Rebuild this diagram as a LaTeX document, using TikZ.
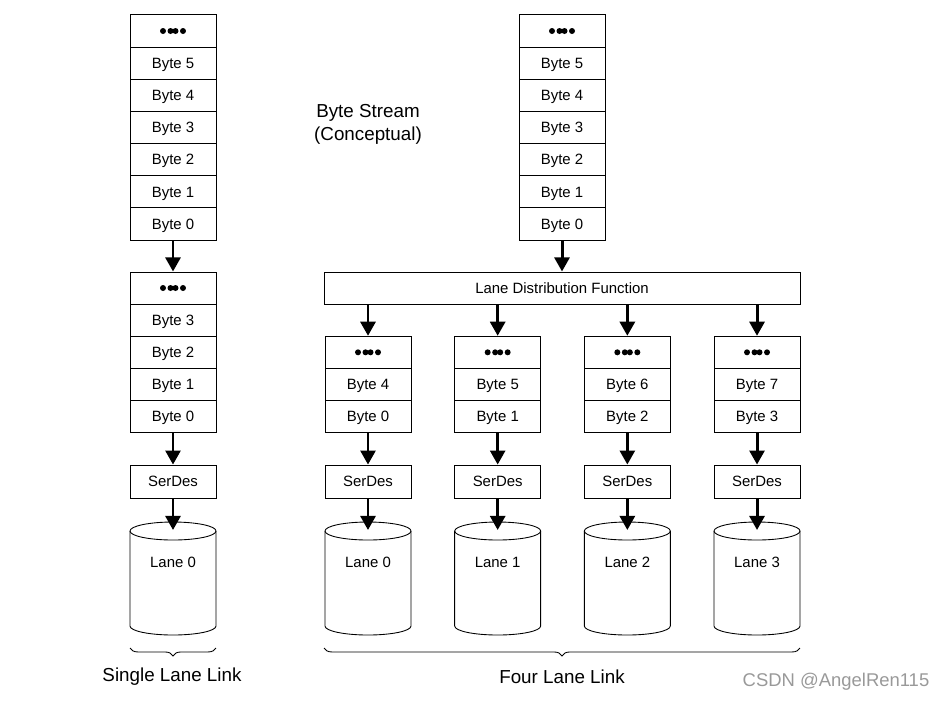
\documentclass[tikz,border=0pt]{standalone}
\usepackage{fontspec}
\setmainfont{Liberation Sans}
\usetikzlibrary{arrows.meta,positioning,decorations.pathreplacing}

\newcommand{\fourdots}{\tikz[baseline=0pt]{%
	\foreach \d in {0,0.15,0.25,0.40} \fill (\d cm,3.05pt) circle (0.06cm);}}

\begin{document}
\begin{tikzpicture}[x=0.02cm,y=-0.02cm,
	cell/.style={draw,line width=0.5pt,minimum width=1.72cm,minimum height=0.643cm,
		inner sep=0pt,text height=6.1pt,text depth=0pt,font=\fontsize{8.5}{10}\selectfont},
	flow/.style={-{Triangle[width=8.5pt,length=8pt]},line width=1.7pt},
	lbl/.style={font=\fontsize{10.7}{13}\selectfont},
	brc/.style={decorate,decoration={brace,amplitude=4.5pt},line width=0.5pt}
	]
	\useasboundingbox (0,0) rectangle (946,701);
	
	% single lane: byte stream
	\node[cell] (lsdots) at (173,31) {\fourdots};
	\foreach \i in {0,...,5}
		\node[cell] (ls\i) at (173,223.9-32.15*\i) {Byte \i};
	
	% single lane: lane buffer
	\node[cell] (ladots) at (173,288) {\fourdots};
	\foreach \i in {0,...,3}
		\node[cell] (la\i) at (173,416.6-32.15*\i) {Byte \i};
	\node[cell,minimum height=0.66cm] (lser) at (173,481.5) {SerDes};
	\coordinate (lcyl) at (173,530);
	\node[cell,draw=none] (llane) at (173,562) {Lane 0};
	
	% four lanes: byte stream
	\node[cell] (rsdots) at (562,31) {\fourdots};
	\foreach \i in {0,...,5}
		\node[cell] (rs\i) at (562,223.9-32.15*\i) {Byte \i};
	\node[cell,minimum width=9.52cm] (ldf) at (562,288) {Lane Distribution Function};
	
	\node[lbl,align=center] (stream) at (368,124) {Byte Stream\\(Conceptual)};
	
	% the four lanes
	\foreach \i [evaluate=\i as \x using 368+129.67*\i,
		evaluate=\i as \j using int(\i+4)] in {0,...,3} {
		\node[cell] (qd\i) at (\x,352.3) {\fourdots};
		\node[cell] (hi\i) at (\x,384.45) {Byte \j};
		\node[cell] (lo\i) at (\x,416.6) {Byte \i};
		\node[cell,minimum height=0.66cm] (ser\i) at (\x,481.5) {SerDes};
		\coordinate (cyl\i) at (\x,530);
		\node[cell,draw=none] (lane\i) at (\x,562) {Lane \i};
	}
	
	% cylinders
	\foreach \x in {173,368,497.67,627.33,757} {
		\draw[line width=0.5pt] (\x,531) ellipse [x radius=43,y radius=9];
		\draw[line width=0.5pt] (\x-43,531) -- (\x-43,626)
			arc[start angle=180,end angle=0,x radius=43,y radius=9] -- (\x+43,531);
	}
	
	% arrows
	\draw[flow] (ls0) -- (ladots);
	\draw[flow] (la0) -- (lser);
	\draw[flow] (lser) -- (lcyl);
	\draw[flow] (rs0) -- (ldf);
	\foreach \i in {0,...,3} {
		\draw[flow] (ldf.south -| qd\i) -- (qd\i);
		\draw[flow] (lo\i) -- (ser\i);
		\draw[flow] (ser\i) -- (cyl\i);
	}
	
	% braces
	\draw[brc] (216,648) -- (130,648);
	\draw[brc] (800,648) -- (324,648);
	\node[lbl] (single) at (172,677) {Single Lane Link};
	\node[lbl] (four) at (562,677) {Four Lane Link};
	
	\node[font=\fontsize{10.5}{12}\selectfont,text=black!40] (mark) at (836,682) {CSDN @AngelRen115};
\end{tikzpicture}
\end{document}
